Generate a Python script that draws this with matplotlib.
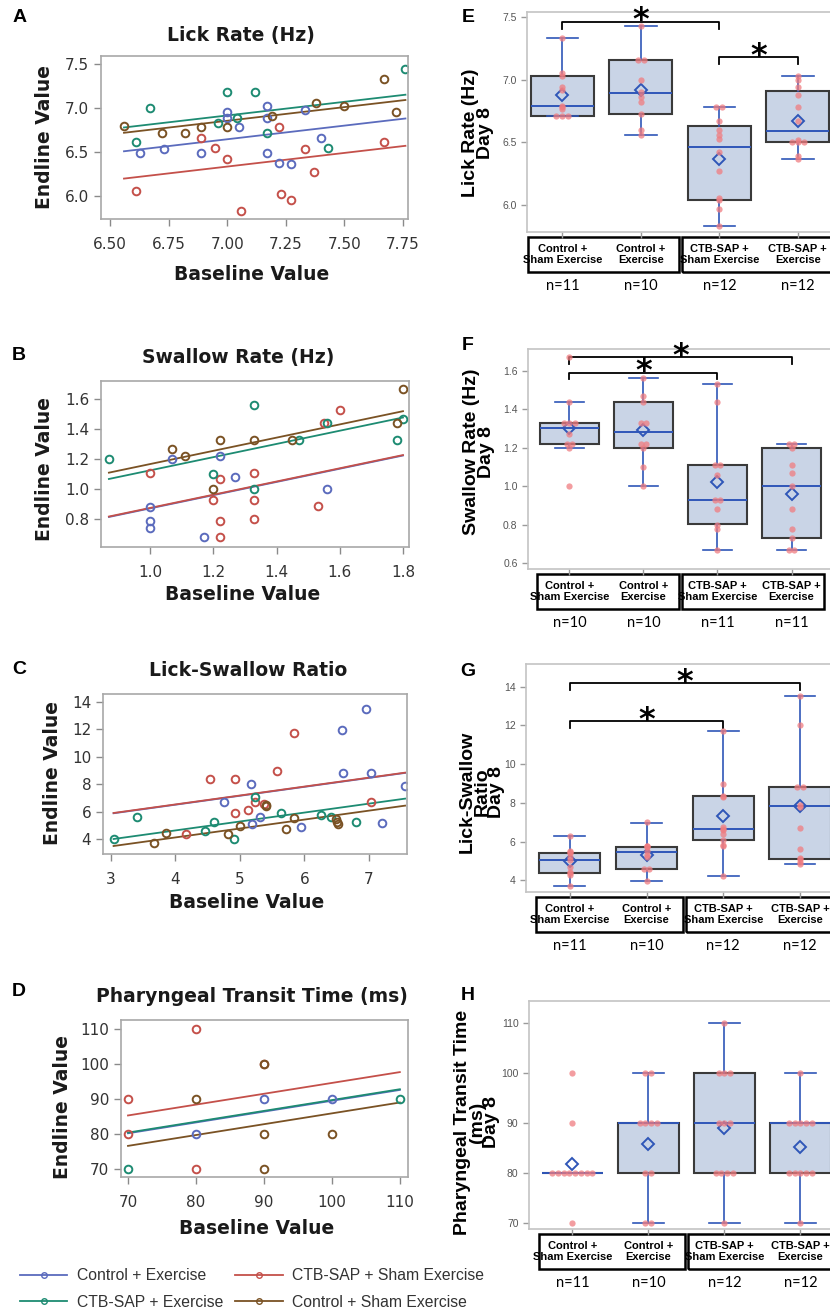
#!/usr/bin/env python3
# Lick / swallow outcomes: baseline vs endline scatter (A-D) and day 8 box plots (E-H).
import numpy as np
import matplotlib
matplotlib.use("Agg")
import matplotlib.pyplot as plt
from matplotlib.lines import Line2D
from matplotlib.patches import Rectangle

W, H = 830, 1315
plt.rcParams["font.family"] = ["Liberation Sans", "DejaVu Sans"]

# ---- groups -------------------------------------------------------------
KEYS = ["ce", "cts", "cte", "cs"]
NAMES = {"ce": "Control + Exercise", "cts": "CTB-SAP + Sham Exercise",
         "cte": "CTB-SAP + Exercise", "cs": "Control + Sham Exercise"}
COLORS = {"ce": "#5b6bbd", "cts": "#c4504a", "cte": "#1d8b72", "cs": "#7a5224"}
FIT_ORDER = ["ce", "cs", "cte", "cts"]
LEGEND_ORDER = ["ce", "cte", "cts", "cs"]

# ---- A: lick rate, baseline vs endline ---------------------------------------
LICK_BASE = {"ce": [6.63, 6.73, 6.89, 7.00, 7.00, 7.05, 7.17, 7.17, 7.17, 7.22, 7.27, 7.33, 7.40],
             "cts": [6.61, 6.89, 6.95, 7.00, 7.06, 7.22, 7.23, 7.27, 7.33, 7.37, 7.67],
             "cte": [6.61, 6.67, 6.96, 7.00, 7.04, 7.12, 7.17, 7.43, 7.76],
             "cs": [6.56, 6.72, 6.82, 6.89, 7.00, 7.19, 7.38, 7.50, 7.67, 7.72]}
LICK_END = {"ce": [6.49, 6.53, 6.49, 6.95, 6.89, 6.78, 7.02, 6.89, 6.49, 6.38, 6.36, 6.98, 6.66],
            "cts": [6.06, 6.66, 6.55, 6.42, 5.83, 6.78, 6.02, 5.96, 6.53, 6.27, 6.61],
            "cte": [6.61, 7.00, 6.83, 7.18, 6.89, 7.18, 6.72, 6.55, 7.44],
            "cs": [6.80, 6.72, 6.72, 6.78, 6.78, 6.91, 7.06, 7.02, 7.33, 6.95]}
LICK_SLOPE = 0.31
LICK_ICPT = {"ce": 4.475, "cts": 4.165, "cte": 4.745, "cs": 4.685}

# ---- B: swallow rate ------------------------------------------------------
SWAL_BASE = {"ce": [1.00, 1.00, 1.00, 1.07, 1.17, 1.22, 1.27, 1.56],
             "cts": [1.00, 1.20, 1.22, 1.22, 1.22, 1.33, 1.33, 1.33, 1.53, 1.55, 1.60],
             "cte": [0.87, 1.20, 1.33, 1.33, 1.47, 1.56, 1.78, 1.80],
             "cs": [1.07, 1.11, 1.20, 1.22, 1.33, 1.45, 1.78, 1.80]}
SWAL_END = {"ce": [0.88, 0.79, 0.74, 1.20, 0.68, 1.22, 1.08, 1.00],
            "cts": [1.11, 0.93, 1.07, 0.79, 0.68, 1.11, 0.93, 0.80, 0.89, 1.44, 1.53],
            "cte": [1.20, 1.10, 1.56, 1.00, 1.33, 1.44, 1.33, 1.47],
            "cs": [1.27, 1.22, 1.00, 1.33, 1.33, 1.33, 1.44, 1.67]}
SWAL_SLOPE = 0.44
SWAL_ICPT = {"ce": 0.432, "cts": 0.435, "cte": 0.685, "cs": 0.727}

# ---- C: lick-swallow ratio ---------------------------------------------------
RAT_BASE = {"ce": [4.76, 5.17, 5.19, 5.31, 5.95, 6.58, 6.60, 6.95, 7.03, 7.21, 7.56],
            "cts": [4.17, 4.53, 4.93, 4.93, 5.12, 5.23, 5.37, 5.58, 5.84, 7.03],
            "cte": [3.04, 3.41, 4.46, 4.60, 4.91, 5.24, 5.64, 6.25, 6.41, 6.80],
            "cs": [3.67, 3.85, 4.81, 5.00, 5.40, 5.41, 5.71, 5.84, 6.49, 6.51, 6.52]}
RAT_END = {"ce": [6.74, 8.03, 5.12, 5.65, 4.92, 11.96, 8.85, 13.49, 8.85, 5.16, 7.91],
           "cts": [4.36, 8.39, 8.39, 5.90, 6.14, 6.74, 6.55, 9.00, 11.72, 6.74],
           "cte": [4.00, 5.65, 4.63, 5.29, 4.00, 7.11, 5.90, 5.78, 5.65, 5.29],
           "cs": [3.76, 4.49, 4.36, 4.97, 6.50, 6.39, 4.73, 5.58, 5.46, 5.29, 5.12]}
RAT_SLOPE = 0.65
RAT_ICPT = {"ce": 3.92, "cts": 3.94, "cte": 2.047, "cs": 1.537}

# ---- D: pharyngeal transit time ---------------------------------------------
PTT_BASE = {"ce": [80, 90, 100], "cts": [70, 70, 80, 80, 90],
            "cte": [70, 110], "cs": [80, 90, 90, 90, 100]}
PTT_END = {"ce": [80, 90, 90], "cts": [90, 80, 110, 70, 100],
           "cte": [70, 90], "cs": [90, 80, 70, 100, 80]}
PTT_SLOPE = 0.31
PTT_ICPT = {"ce": 58.5, "cts": 63.6, "cte": 58.7, "cs": 54.9}

# ---- E-H: day 8 box plots ---------------------------------------------------------
BOX_LABELS = ["Control +\nSham Exercise", "Control +\nExercise",
              "CTB-SAP +\nSham Exercise", "CTB-SAP +\nExercise"]

LICK_N = [11, 10, 12, 12]
LICK_D8 = [[7.33, 7.05, 7.03, 6.94, 6.92, 6.79, 6.78, 6.77, 6.71, 6.71, 6.71],
           [7.43, 7.16, 7.16, 7.00, 6.90, 6.86, 6.82, 6.73, 6.60, 6.56],
           [6.78, 6.78, 6.67, 6.60, 6.56, 6.53, 6.42, 6.27, 6.06, 6.04, 5.97, 5.83],
           [7.03, 7.00, 6.94, 6.88, 6.78, 6.67, 6.52, 6.50, 6.50, 6.50, 6.39, 6.37]]
LICK_LOW = [6.71, 6.56, 5.83, 6.37]
LICK_Q1 = [6.71, 6.73, 6.04, 6.50]
LICK_MED = [6.79, 6.89, 6.465, 6.59]
LICK_Q3 = [7.03, 7.16, 6.63, 6.91]
LICK_HIGH = [7.33, 7.43, 6.78, 7.03]
LICK_MEAN = [6.88, 6.92, 6.37, 6.67]
LICK_SIG = [(0, 2, 7.46), (2, 3, 7.18)]

SWAL_N = [10, 10, 11, 11]
SWAL_D8 = [[1.67, 1.44, 1.33, 1.33, 1.33, 1.27, 1.22, 1.22, 1.20, 1.00],
           [1.56, 1.47, 1.44, 1.33, 1.33, 1.22, 1.22, 1.20, 1.10, 1.00],
           [1.53, 1.44, 1.11, 1.11, 1.06, 0.93, 0.93, 0.88, 0.80, 0.78, 0.67],
           [1.22, 1.22, 1.20, 1.11, 1.07, 1.00, 0.88, 0.78, 0.73, 0.67, 0.67]]
SWAL_LOW = [1.20, 1.00, 0.67, 0.67]
SWAL_Q1 = [1.22, 1.20, 0.805, 0.73]
SWAL_MED = [1.30, 1.28, 0.93, 1.00]
SWAL_Q3 = [1.33, 1.44, 1.11, 1.20]
SWAL_HIGH = [1.44, 1.56, 1.53, 1.22]
SWAL_MEAN = [1.30, 1.29, 1.02, 0.96]
SWAL_SIG = [(0, 3, 1.67), (0, 2, 1.59)]

RAT_N = [11, 10, 12, 12]
RAT_D8 = [[6.30, 5.50, 5.45, 5.40, 5.20, 5.05, 4.70, 4.45, 4.40, 4.30, 3.71],
          [7.00, 5.80, 5.75, 5.70, 5.50, 5.30, 5.20, 4.60, 4.60, 3.95],
          [11.70, 9.00, 8.35, 8.30, 6.75, 6.65, 6.60, 6.40, 6.10, 5.85, 5.80, 4.22],
          [13.53, 12.00, 8.80, 8.80, 7.90, 7.80, 6.72, 5.60, 5.15, 5.10, 4.95, 4.87]]
RAT_LOW = [3.71, 3.95, 4.22, 4.87]
RAT_Q1 = [4.40, 4.57, 6.10, 5.12]
RAT_MED = [5.03, 5.47, 6.67, 7.84]
RAT_Q3 = [5.43, 5.72, 8.34, 8.83]
RAT_HIGH = [6.29, 6.98, 11.71, 13.53]
RAT_MEAN = [5.00, 5.29, 7.31, 7.82]
RAT_SIG = [(0, 3, 14.17), (0, 2, 12.22)]

PTT_N = [11, 10, 12, 12]
PTT_D8 = [[100, 90, 80, 80, 80, 80, 80, 80, 80, 80, 70],
          [100, 100, 90, 90, 90, 90, 80, 80, 70, 70],
          [110, 100, 100, 100, 90, 90, 90, 80, 80, 80, 80, 70],
          [100, 90, 90, 90, 90, 90, 80, 80, 80, 80, 80, 70]]
PTT_LOW = [80, 70, 70, 70]
PTT_Q1 = [80, 80, 80, 80]
PTT_MED = [80, 90, 90, 90]
PTT_Q3 = [80, 90, 100, 90]
PTT_HIGH = [80, 100, 110, 100]
PTT_MEAN = [81.8, 85.9, 89.0, 85.3]
PTT_SIG = []

BOX_FILL = "#c9d4e6"
BOX_BLUE = "#2f56b8"
DOT_RED = "#f07c80"


def axes_px(fig, left, top, right, bottom):
    return fig.add_axes([left / W, 1 - bottom / H, (right - left) / W, (bottom - top) / H])


def text_px(fig, x, y, s, **kw):
    kw.setdefault("ha", "center")
    kw.setdefault("va", "center")
    fig.text(x / W, 1 - y / H, s, **kw)


def scatter_panel(fig, rect, base, end, slope, icpt, xlim, ylim, xticks, yticks, xfmt, yfmt):
    ax = axes_px(fig, *rect)
    allx = [v for k in KEYS for v in base[k]]
    xx = np.array([min(allx), max(allx)])
    for k in FIT_ORDER:
        ax.plot(xx, icpt[k] + slope * xx, color=COLORS[k], lw=1.3)
    for k in KEYS:
        ax.plot(base[k], end[k], "o", ms=5.5, mfc="none", mec=COLORS[k], mew=1.4)
    ax.set_xlim(xlim)
    ax.set_ylim(ylim)
    ax.set_xticks(xticks, [xfmt % t for t in xticks], fontfamily="DejaVu Sans")
    ax.set_yticks(yticks, [yfmt % t for t in yticks], fontfamily="DejaVu Sans")
    ax.tick_params(direction="out", length=5, width=1, color="#8a8a8a",
                   labelcolor="#333333", labelsize=11)
    ax.tick_params(axis="x", pad=8)
    for s in ax.spines.values():
        s.set_color("#a8a8a8")
        s.set_linewidth(1.2)
    return ax


def jitter(vals, step=0.075):
    xs = np.zeros(len(vals))
    vals = np.round(np.asarray(vals, dtype=float), 3)
    for v in np.unique(vals):
        idx = np.where(vals == v)[0]
        xs[idx] = (np.arange(len(idx)) - (len(idx) - 1) / 2) * step
    return xs


def box_panel(fig, rect, dots, low, q1, med, q3, high, mean, n, sig, xlim, ylim, yticks, yfmt):
    ax = axes_px(fig, *rect)
    h_px = rect[3] - rect[1]
    pos = np.arange(len(BOX_LABELS))
    stats = [dict(med=med[i], q1=q1[i], q3=q3[i], whislo=low[i], whishi=high[i],
                  mean=mean[i], fliers=[]) for i in pos]
    ax.bxp(stats, positions=pos, widths=0.8, patch_artist=True, showmeans=True,
           showfliers=False, capwidths=0.4,
           boxprops=dict(facecolor=BOX_FILL, edgecolor="#3a3a3a", linewidth=1.5),
           medianprops=dict(color=BOX_BLUE, linewidth=1.4),
           whiskerprops=dict(color=BOX_BLUE, linewidth=1.2),
           capprops=dict(color=BOX_BLUE, linewidth=1.2),
           meanprops=dict(marker="D", markersize=6.5, markerfacecolor="none",
                          markeredgecolor=BOX_BLUE, markeredgewidth=1.4))
    for i, d in enumerate(dots):
        ax.plot(i + jitter(d), d, "o", ms=4.5, color=DOT_RED, alpha=0.75,
                mec="none", zorder=4)
    span = ylim[1] - ylim[0]
    for i, j, y in sig:
        ax.plot([i, i, j, j], [y - 0.03 * span, y, y, y - 0.03 * span],
                color="black", lw=1.3, clip_on=False)
        ax.text((i + j) / 2, y + 0.005 * span, "*", ha="center", va="center",
                fontsize=23, fontweight="bold", fontfamily="DejaVu Sans")
    ax.set_xlim(xlim)
    ax.set_ylim(ylim)
    ax.set_xticks(pos, [""] * len(pos))
    ax.set_yticks(yticks, [yfmt % t for t in yticks])
    ax.tick_params(length=4, width=1, color="#9a9a9a", labelcolor="#555555", labelsize=7.5)
    for s in ax.spines.values():
        s.set_color("#c4c4c4")
        s.set_linewidth(1.2)
    ax.spines["right"].set_visible(False)

    tr = ax.get_xaxis_transform()
    top_off, bot_off, n_off = 5, 40, 54
    for x0, x1 in [(-0.44, 1.48), (1.52, 3.44)]:
        ax.add_patch(Rectangle((x0, -bot_off / h_px), x1 - x0, (bot_off - top_off) / h_px,
                               transform=tr, fill=False, ec="black", lw=1.8, clip_on=False))
    for i in pos:
        ax.text(i, -(top_off + bot_off) / 2 / h_px, BOX_LABELS[i], transform=tr,
                ha="center", va="center", fontsize=8, fontweight="bold", linespacing=1.1)
        ax.text(i, -n_off / h_px, "n=%d" % n[i], transform=tr, ha="center", va="center",
                fontsize=10.5, fontfamily=["Lato", "DejaVu Sans"])
    return ax


def main():
    fig = plt.figure(figsize=(W / 100, H / 100), dpi=100)
    lab = dict(fontfamily="DejaVu Sans", fontweight="bold", color="#1a1a1a")

    # ---- left column: scatter plots ----
    scatter_panel(fig, (101, 56, 408, 219), LICK_BASE, LICK_END, LICK_SLOPE, LICK_ICPT,
                  (6.462, 7.771), (5.74, 7.59), [6.5, 6.75, 7.0, 7.25, 7.5, 7.75],
                  [6.0, 6.5, 7.0, 7.5], "%.2f", "%.1f")
    scatter_panel(fig, (101, 381, 409, 547), SWAL_BASE, SWAL_END, SWAL_SLOPE, SWAL_ICPT,
                  (0.845, 1.819), (0.615, 1.72), [1.0, 1.2, 1.4, 1.6, 1.8],
                  [0.8, 1.0, 1.2, 1.4, 1.6], "%.1f", "%.1f")
    scatter_panel(fig, (103, 694, 407, 854), RAT_BASE, RAT_END, RAT_SLOPE, RAT_ICPT,
                  (2.876, 7.59), (2.93, 14.58), [3, 4, 5, 6, 7],
                  [4, 6, 8, 10, 12, 14], "%d", "%d")
    scatter_panel(fig, (121, 1020, 408, 1177), PTT_BASE, PTT_END, PTT_SLOPE, PTT_ICPT,
                  (68.97, 111.2), (67.7, 112.6), [70, 80, 90, 100, 110],
                  [70, 80, 90, 100, 110], "%d", "%d")

    titles = [("Lick Rate (Hz)", 241, 36), ("Swallow Rate (Hz)", 238, 357),
              ("Lick-Swallow Ratio", 248, 670), ("Pharyngeal Transit Time (ms)", 252, 996)]
    for s, x, y in titles:
        text_px(fig, x, y, s, fontsize=13.5, **lab)
    for x, y in [(45, 137), (44, 469), (52, 773), (63, 1107)]:
        text_px(fig, x, y, "Endline Value", fontsize=13.5, rotation=90, **lab)
    for x, y in [(252, 275), (243, 595), (247, 903), (257, 1229)]:
        text_px(fig, x, y, "Baseline Value", fontsize=13.5, **lab)

    # ---- right column: day 8 box plots ----
    box_panel(fig, (527, 12, 830, 232), LICK_D8, LICK_LOW, LICK_Q1, LICK_MED, LICK_Q3,
              LICK_HIGH, LICK_MEAN, LICK_N, LICK_SIG, (-0.45, 3.41), (5.785, 7.54),
              [6.0, 6.5, 7.0, 7.5], "%.1f")
    box_panel(fig, (528, 349, 830, 569), SWAL_D8, SWAL_LOW, SWAL_Q1, SWAL_MED, SWAL_Q3,
              SWAL_HIGH, SWAL_MEAN, SWAL_N, SWAL_SIG, (-0.56, 3.52), (0.570, 1.713),
              [0.6, 0.8, 1.0, 1.2, 1.4, 1.6], "%.1f")
    box_panel(fig, (526, 664, 830, 892), RAT_D8, RAT_LOW, RAT_Q1, RAT_MED, RAT_Q3,
              RAT_HIGH, RAT_MEAN, RAT_N, RAT_SIG, (-0.57, 3.39), (3.40, 15.17),
              [4, 6, 8, 10, 12, 14], "%d")
    box_panel(fig, (529, 1001, 830, 1229), PTT_D8, PTT_LOW, PTT_Q1, PTT_MED, PTT_Q3,
              PTT_HIGH, PTT_MEAN, PTT_N, PTT_SIG, (-0.57, 3.39), (68.8, 114.5),
              [70, 80, 90, 100, 110], "%d")

    ylabs = [("Lick Rate (Hz)\nDay 8", 478, 133), ("Swallow Rate (Hz)\nDay 8", 479, 452),
             ("Lick-Swallow\nRatio\nDay 8", 482, 792),
             ("Pharyngeal Transit Time\n(ms)\nDay 8", 477, 1122)]
    for s, x, y in ylabs:
        text_px(fig, x, y, s, rotation=90, fontsize=14, fontweight="bold",
                linespacing=0.82, multialignment="center")

    for s, x, y in [("A", 20, 17), ("B", 19, 355), ("C", 19, 669), ("D", 19, 992),
                    ("E", 468, 17), ("F", 468, 345), ("G", 468, 672), ("H", 468, 995)]:
        text_px(fig, x, y, s, fontsize=14, fontweight="bold")

    handles = [Line2D([], [], color=COLORS[k], lw=1.3, marker="o", ms=4, mfc="none", mew=1.0)
               for k in LEGEND_ORDER]
    fig.legend(handles, [NAMES[k] for k in LEGEND_ORDER], loc="upper left",
               bbox_to_anchor=(20 / W, 1 - 1268 / H), ncol=2, frameon=False, fontsize=11.3,
               labelcolor="#333333", handlelength=3.0, handletextpad=0.6,
               columnspacing=0.8, labelspacing=0.75, borderpad=0, borderaxespad=0)

    fig.savefig("out.png", dpi=100)


if __name__ == "__main__":
    main()
